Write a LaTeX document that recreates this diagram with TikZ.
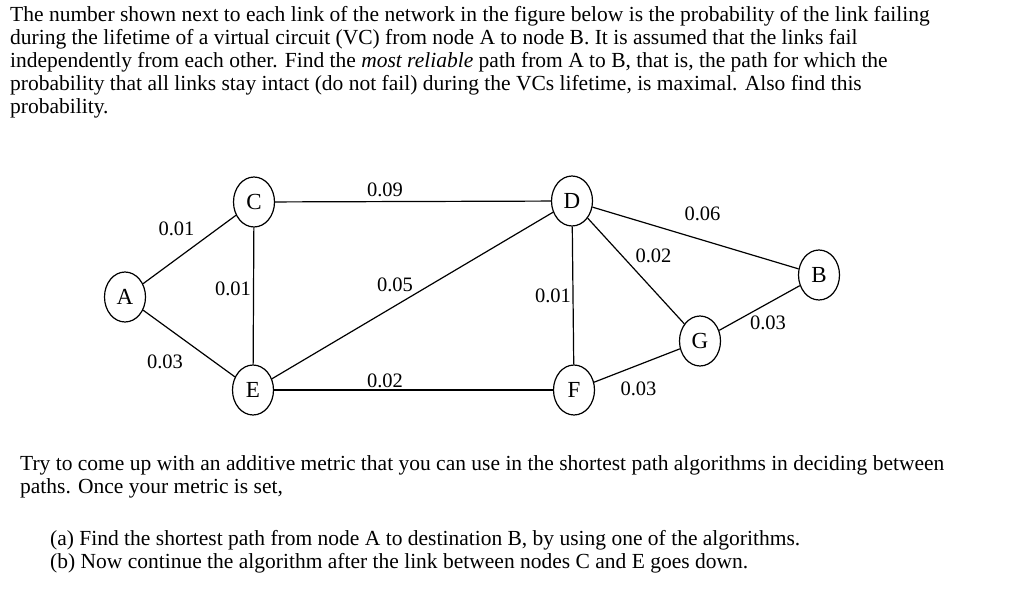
\documentclass[tikz,border=0pt]{standalone}
\usepackage{fontspec}
\setmainfont{Liberation Serif}
\usetikzlibrary{shapes.geometric}

\begin{document}
\begin{tikzpicture}[x=1pt,y=-1pt,
  vertex/.style={draw, ellipse, minimum width=41pt, minimum height=50pt, inner sep=0pt, line width=1.2pt, font=\fontsize{23}{26}\selectfont},
  link/.style={line width=1.2pt},
  prob/.style={inner sep=0pt, font=\fontsize{20.5}{24}\selectfont},
  txtline/.style={anchor=base west, inner sep=0pt, font=\fontsize{21.5}{23}\selectfont}]

\useasboundingbox (0,0) rectangle (1024,594);

% Question text
\node[txtline] (q1) at (10,22) {The number shown next to each link of the network in the figure below is the probability of the link failing};
\node[txtline] (q2) at (10,45) {during the lifetime of a virtual circuit (VC) from node A to node B. It is assumed that the links fail};
\node[txtline] (q3) at (10,67.5) {independently from each other. Find the \textit{most reliable} path from A to B, that is, the path for which the};
\node[txtline] (q4) at (10,90) {probability that all links stay intact (do not fail) during the VCs lifetime, is maximal. Also find this};
\node[txtline] (q5) at (10,113) {probability.};

% Network nodes
\node[vertex] (A) at (125,297) {A};
\node[vertex] (C) at (254,202) {C};
\node[vertex] (E) at (253,390) {E};
\node[vertex] (D) at (572,201) {D};
\node[vertex] (F) at (574,390) {F};
\node[vertex] (G) at (700,341) {G};
\node[vertex] (B) at (819,275) {B};

% Links
\draw[link] (A) -- (C);
\draw[link] (A) -- (E);
\draw[link] (C) -- (E);
\draw[link] (C) -- (D);
\draw[link] (E) -- (D);
\draw[link] (E) -- (F);
\draw[link] (D) -- (F);
\draw[link] (D) -- (G);
\draw[link] (D) -- (B);
\draw[link] (F) -- (G);
\draw[link] (G) -- (B);

% Failure probabilities
\node[prob] (pAC) at (176.5,228.5) {0.01};
\node[prob] (pAE) at (165,362) {0.03};
\node[prob] (pCE) at (233,289) {0.01};
\node[prob] (pCD) at (385,190) {0.09};
\node[prob] (pED) at (395,285) {0.05};
\node[prob] (pEF) at (385,380.5) {0.02};
\node[prob] (pDF) at (553,296) {0.01};
\node[prob] (pDG) at (653.5,256) {0.02};
\node[prob] (pDB) at (702.5,213.5) {0.06};
\node[prob] (pGB) at (768,322.5) {0.03};
\node[prob] (pFG) at (638.5,389) {0.03};

% Tasks
\node[txtline] (t1) at (20,470) {Try to come up with an additive metric that you can use in the shortest path algorithms in deciding between};
\node[txtline] (t2) at (20,493.5) {paths. Once your metric is set,};
\node[txtline] (ta) at (50,545) {(a) Find the shortest path from node A to destination B, by using one of the algorithms.};
\node[txtline] (tb) at (50,568) {(b) Now continue the algorithm after the link between nodes C and E goes down.};

\end{tikzpicture}
\end{document}
